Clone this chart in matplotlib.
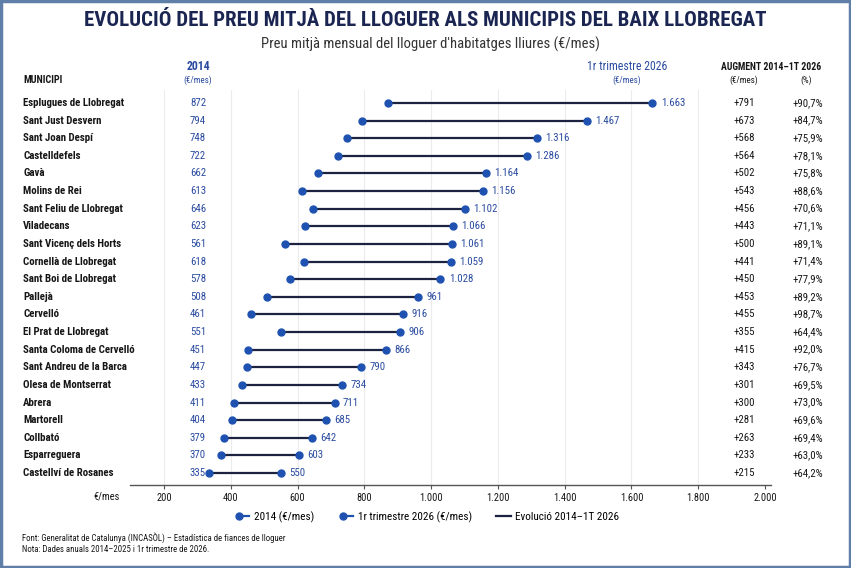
"""
Dumbbell chart: rent prices in Baix Llobregat municipalities, 2014 vs 1T 2026
"""

import matplotlib
matplotlib.use('Agg')
import matplotlib.pyplot as plt
from matplotlib import font_manager
from matplotlib.legend_handler import HandlerBase
from matplotlib.lines import Line2D
from matplotlib.patches import Rectangle
from matplotlib.transforms import blended_transform_factory

municipis = [
    'Esplugues de Llobregat', 'Sant Just Desvern', 'Sant Joan Despí', 'Castelldefels',
    'Gavà', 'Molins de Rei', 'Sant Feliu de Llobregat', 'Viladecans',
    'Sant Vicenç dels Horts', 'Cornellà de Llobregat', 'Sant Boi de Llobregat', 'Pallejà',
    'Cervelló', 'El Prat de Llobregat', 'Santa Coloma de Cervelló', 'Sant Andreu de la Barca',
    'Olesa de Montserrat', 'Abrera', 'Martorell', 'Collbató', 'Esparreguera',
    'Castellví de Rosanes',
]
preu_2014 = [872, 794, 748, 722, 662, 613, 646, 623, 561, 618, 578, 508,
             461, 551, 451, 447, 433, 411, 404, 379, 370, 335]
preu_2026 = [1663, 1467, 1316, 1286, 1164, 1156, 1102, 1066, 1061, 1059, 1028, 961,
             916, 906, 866, 790, 734, 711, 685, 642, 603, 550]
augment_eur = [791, 673, 568, 564, 502, 543, 456, 443, 500, 441, 450, 453,
               455, 355, 415, 343, 301, 300, 281, 263, 233, 215]
augment_pct = [90.7, 84.7, 75.9, 78.1, 75.8, 88.6, 70.6, 71.1, 89.1, 71.4, 77.9, 89.2,
               98.7, 64.4, 92.0, 76.7, 69.5, 73.0, 69.6, 69.4, 63.0, 64.2]
x_ticks = [200, 400, 600, 800, 1000, 1200, 1400, 1600, 1800, 2000]

NAVY = '#1b2552'
LINE = '#1c2340'
DOT = '#1f52b0'
BLUE_TXT = '#2a4ba0'
TXT = '#161616'
GRID = '#ececec'

# condensed font, like the original
names = {f.name for f in font_manager.fontManager.ttflist}
FAMILY = 'Roboto Condensed' if 'Roboto Condensed' in names else 'DejaVu Sans'
plt.rcParams['font.family'] = [FAMILY, 'DejaVu Sans']


def fmt_num(v):
    return f'{v:,}'.replace(',', '.')


class DotStubHandler(HandlerBase):
    """Legend key: dot at the left end of a short line"""

    def create_artists(self, legend, orig_handle, xdescent, ydescent, width, height,
                       fontsize, trans):
        y = height / 2 - ydescent
        x0 = -xdescent + 3
        line = Line2D([x0, width - xdescent], [y, y], color=orig_handle.get_color(),
                      linewidth=orig_handle.get_linewidth(), transform=trans)
        dot = Line2D([x0], [y], marker='o', markersize=orig_handle.get_markersize(),
                     color=orig_handle.get_color(), linestyle='none', transform=trans)
        return [line, dot]


W, H = 851, 568
fig = plt.figure(figsize=(W / 100, H / 100), dpi=100)
fig.patch.set_facecolor('white')

# chart area: x from px 130 to 771, y from px 90 to 485
ax = fig.add_axes([130 / W, 1 - 485 / H, (771 - 130) / W, (485 - 90) / H])
n = len(municipis)
row_h = (473 - 103) / (n - 1)
ax.set_ylim(n - 1 + 12 / row_h, -13 / row_h)
ax.set_xlim(98, 2018)

for s in ['top', 'right', 'left']:
    ax.spines[s].set_visible(False)
ax.spines['bottom'].set_color('#555555')
ax.spines['bottom'].set_linewidth(1)
ax.set_yticks([])
ax.set_xticks(x_ticks)
ax.set_xticklabels([fmt_num(t) for t in x_ticks], fontsize=7.5, color=TXT)
ax.tick_params(axis='x', length=3, width=0.8, color='#555555', pad=3)
for t in x_ticks[:-1]:
    ax.axvline(t, color=GRID, linewidth=0.8, zorder=0)

rows = list(range(n))
ax.hlines(rows, preu_2014, preu_2026, color=LINE, linewidth=1.6, zorder=2)
ax.plot(preu_2014, rows, 'o', color=DOT, markersize=5, zorder=3)
ax.plot(preu_2026, rows, 'o', color=DOT, markersize=5, zorder=3)

tr = blended_transform_factory(fig.transFigure, ax.transData)
for i in rows:
    ax.text(23 / W, i, municipis[i], transform=tr, ha='left', va='center',
            fontsize=7.8, fontweight='bold', color=TXT)
    ax.text(198 / W, i, fmt_num(preu_2014[i]), transform=tr, ha='center', va='center',
            fontsize=7.8, color=BLUE_TXT)
    ax.annotate(fmt_num(preu_2026[i]), (preu_2026[i], i), xytext=(6, 0),
                textcoords='offset points', ha='left', va='center',
                fontsize=7.8, color=BLUE_TXT)
    ax.text(744 / W, i, f'+{augment_eur[i]}', transform=tr, ha='center', va='center',
            fontsize=7.8, color=TXT)
    ax.text(823 / W, i, f'+{augment_pct[i]:.1f}%'.replace('.', ','), transform=tr,
            ha='right', va='center', fontsize=7.8, color=TXT)


def ftext(x, y, s, **kw):
    fig.text(x / W, 1 - y / H, s, **kw)


# header
ftext(425, 20, 'EVOLUCIÓ DEL PREU MITJÀ DEL LLOGUER ALS MUNICIPIS DEL BAIX LLOBREGAT',
      ha='center', va='center', fontsize=15, fontweight='bold', color=NAVY)
ftext(430, 44, "Preu mitjà mensual del lloguer d'habitatges lliures (€/mes)",
      ha='center', va='center', fontsize=10.5, color='#333333')
ftext(23, 80, 'MUNICIPI', ha='left', va='center', fontsize=7.3, fontweight='bold', color=TXT)
ftext(198, 67, '2014', ha='center', va='center', fontsize=8.5, fontweight='bold', color=BLUE_TXT)
ftext(198, 80, '(€/mes)', ha='center', va='center', fontsize=6.5, color=BLUE_TXT)
ftext(627, 67, '1r trimestre 2026', ha='center', va='center', fontsize=8.5, color=BLUE_TXT)
ftext(627, 80, '(€/mes)', ha='center', va='center', fontsize=6.5, color=BLUE_TXT)
ftext(771, 67, 'AUGMENT 2014–1T 2026', ha='center', va='center', fontsize=7,
      fontweight='bold', color=TXT)
ftext(744, 80, '(€/mes)', ha='center', va='center', fontsize=6.5, color=TXT)
ftext(806, 80, '(%)', ha='center', va='center', fontsize=6.5, color=TXT)
ftext(120, 496, '€/mes', ha='right', va='center', fontsize=7.5, color=TXT)

# legend
h_2014 = Line2D([0], [0], color=DOT, marker='o', markersize=5, linewidth=1.6)
h_2026 = Line2D([0], [0], color=DOT, marker='o', markersize=5, linewidth=1.6)
h_evol = Line2D([0], [0], color=LINE, linewidth=1.6)
labels = ['2014 (€/mes)', '1r trimestre 2026 (€/mes)', 'Evolució 2014–1T 2026']
fig.legend([h_2014, h_2026, h_evol], labels, loc='center',
           bbox_to_anchor=(427 / W, 1 - 517 / H), ncol=3, frameon=False, fontsize=8,
           handlelength=1.3, handletextpad=0.4, columnspacing=2.2,
           handler_map={h_2014: DotStubHandler(), h_2026: DotStubHandler()})

# footnotes
ftext(22, 538, 'Font: Generalitat de Catalunya (INCASÒL) – Estadística de fiances de lloguer',
      ha='left', va='center', fontsize=6.3, color=TXT)
ftext(22, 550, 'Nota: Dades anuals 2014–2025 i 1r trimestre de 2026.',
      ha='left', va='center', fontsize=6.3, color=TXT)

# outer frame
fig.patches.append(Rectangle((0.001, 0.001), 0.998, 0.997, transform=fig.transFigure,
                             fill=False, edgecolor='#5f7fa8', linewidth=2.5))

plt.savefig('out.png', dpi=100)
plt.close()
